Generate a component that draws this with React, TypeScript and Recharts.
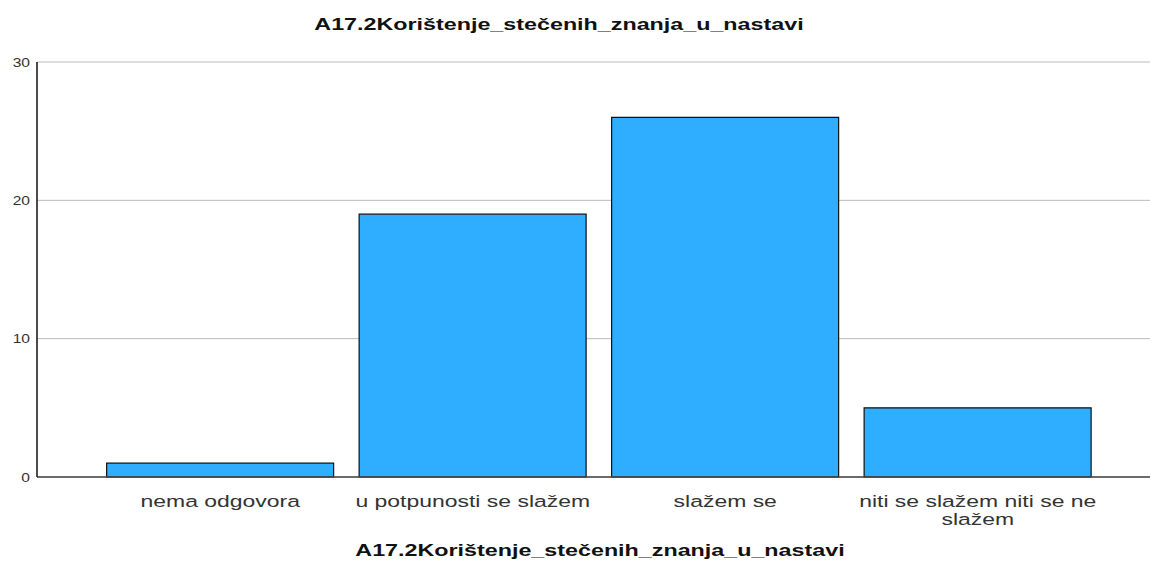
import React from "react";
import { BarChart, Bar, XAxis, YAxis, CartesianGrid, Text } from "recharts";

const categories = ["nema odgovora", "u potpunosti se slažem", "slažem se", "niti se slažem niti se ne slažem"];
const counts = [1, 19, 26, 5];
const yTicks = [0, 10, 20, 30];
const titleText = "A17.2Korištenje_stečenih_znanja_u_nastavi";

const data = categories.map((c, i) => ({ name: c, value: counts[i] }));

const FONT = "'Liberation Sans', Arial, sans-serif";
const SX = 1.35;

const XTick = (props: any) => {
  const { x, y, payload } = props;
  return (
    <g transform={`translate(${x},${y + 10}) scale(${SX},1)`}>
      <Text
        x={0}
        y={0}
        width={200}
        textAnchor="middle"
        verticalAnchor="start"
        fontSize={17}
        fontFamily={FONT}
        style={{ fontSize: 17, fontFamily: FONT }}
        fill="#333"
        lineHeight={18}
      >
        {payload.value}
      </Text>
    </g>
  );
};

const YTick = (props: any) => {
  const { x, y, payload } = props;
  return (
    <g transform={`translate(${x},${y}) scale(1.2,1)`}>
      <text x={0} y={0} dy="0.35em" textAnchor="end" fontSize={13} fontFamily={FONT} fill="#333">
        {payload.value}
      </text>
    </g>
  );
};

const titleStyle = (top: number, center: number): React.CSSProperties => ({
  position: "absolute",
  left: center - 400,
  width: 800,
  top,
  textAlign: "center",
  fontFamily: FONT,
  fontWeight: "bold",
  fontSize: 17,
  color: "#111",
  transform: `scaleX(${1.37})`,
  transformOrigin: "50% 50%",
  whiteSpace: "nowrap",
});

export default function App() {
  return (
    <div style={{ position: "absolute", left: 0, top: 0, width: 1150, height: 563, background: "#fff" }}>
      <div style={titleStyle(15, 559)}>{titleText}</div>
      <BarChart
        width={1150}
        height={563}
        data={data}
        margin={{ top: 62, right: 0, bottom: 0, left: 0 }}
        barCategoryGap="5%"
      >
        <CartesianGrid vertical={false} stroke="#bbb" strokeWidth={1} />
        <XAxis
          dataKey="name"
          height={86}
          padding={{ left: 57, right: 46 }}
          tickLine={false}
          axisLine={{ stroke: "#444", strokeWidth: 1.5 }}
          tick={<XTick />}
          interval={0}
        />
        <YAxis
          width={37}
          domain={[0, 30]}
          ticks={yTicks}
          tickLine={false}
          tickSize={0}
          tickMargin={7}
          axisLine={{ stroke: "#111", strokeWidth: 1.5 }}
          tick={<YTick />}
        />
        <Bar dataKey="value" fill="#2FADFF" stroke="#111" strokeWidth={1.2} isAnimationActive={false} />
      </BarChart>
      <div style={titleStyle(541, 600)}>{titleText}</div>
    </div>
  );
}
